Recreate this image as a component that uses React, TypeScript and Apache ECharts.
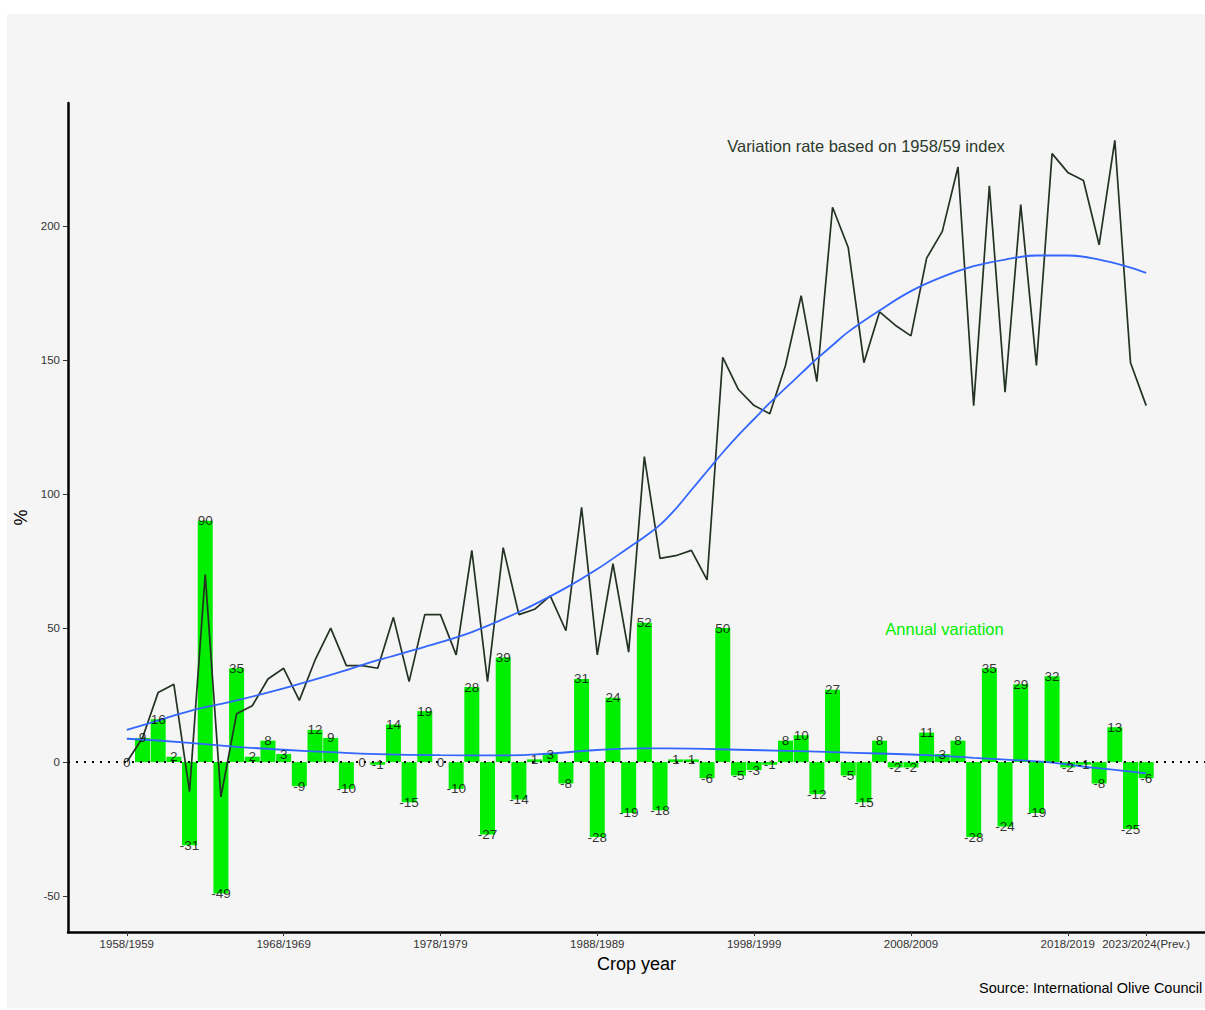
import React, { useEffect, useRef } from "react";
import * as echarts from "echarts";

const cropYears = [
  "1958/1959", "1959/1960", "1960/1961", "1961/1962", "1962/1963", "1963/1964", "1964/1965", "1965/1966",
  "1966/1967", "1967/1968", "1968/1969", "1969/1970", "1970/1971", "1971/1972", "1972/1973", "1973/1974",
  "1974/1975", "1975/1976", "1976/1977", "1977/1978", "1978/1979", "1979/1980", "1980/1981", "1981/1982",
  "1982/1983", "1983/1984", "1984/1985", "1985/1986", "1986/1987", "1987/1988", "1988/1989", "1989/1990",
  "1990/1991", "1991/1992", "1992/1993", "1993/1994", "1994/1995", "1995/1996", "1996/1997", "1997/1998",
  "1998/1999", "1999/2000", "2000/2001", "2001/2002", "2002/2003", "2003/2004", "2004/2005", "2005/2006",
  "2006/2007", "2007/2008", "2008/2009", "2009/2010", "2010/2011", "2011/2012", "2012/2013", "2013/2014",
  "2014/2015", "2015/2016", "2016/2017", "2017/2018", "2018/2019", "2019/2020", "2020/2021", "2021/2022",
  "2022/2023", "2023/2024(Prev.)",
];

// Annual variation (%), green bars
const annualVariation = [
  0, 9, 16, 2, -31, 90, -49, 35, 2, 8, 3, -9, 12, 9, -10, 0, -1, 14, -15, 19, 0, -10, 28, -27, 39, -14,
  1, 3, -8, 31, -28, 24, -19, 52, -18, 1, 1, -6, 50, -5, -3, -1, 8, 10, -12, 27, -5, -15, 8, -2, -2, 11,
  3, 8, -28, 35, -24, 29, -19, 32, -2, -1, -8, 13, -25, -6,
];

// Variation rate based on 1958/59 index (%), dark line
const indexVariation = [
  0, 9, 26, 29, -11, 70, -13, 18, 21, 31, 35, 23, 38, 50, 36, 36, 35, 54, 30, 55, 55, 40, 79, 30, 80, 55,
  57, 62, 49, 95, 40, 74, 41, 114, 76, 77, 79, 68, 151, 139, 133, 130, 148, 174, 142, 207, 192, 149, 168,
  163, 159, 188, 198, 222, 133, 215, 138, 208, 148, 227, 220, 217, 193, 232, 149, 133,
];

// Smoothed trend of the index line
const indexTrendYears = [1958, 1960, 1962, 1965, 1968, 1971, 1974, 1977, 1980, 1983, 1986, 1988, 1990, 1991, 1992, 1993, 1994, 1995, 1996, 1997, 1998, 1999, 2000, 2001, 2002, 2003, 2004, 2006, 2008, 2010, 2012, 2014, 2016, 2018, 2020, 2022, 2023];
const indexTrendValues = [12, 15.5, 19, 23, 27.5, 32.5, 38, 43, 48.5, 56, 65, 72, 80, 84, 88.5, 94.5, 101.5, 108.5, 115.5, 122, 128, 134, 139.5, 145, 150.5, 155.5, 160.5, 168.5, 175.7, 181, 185, 187.5, 189, 189, 187.5, 184.5, 182.5];

// Smoothed trend of the annual variation
const annualTrendYears = [1958, 1962, 1965, 1968, 1971, 1974, 1978, 1982, 1985, 1988, 1991, 1994, 1997, 2000, 2003, 2006, 2009, 2012, 2015, 2017, 2019, 2021, 2023];
const annualTrendValues = [8.7, 7.2, 5.7, 4.6, 3.7, 3.0, 2.6, 2.5, 3.2, 4.5, 5.1, 5.0, 4.6, 4.2, 3.7, 3.2, 2.6, 1.6, 0.6, -0.2, -1.7, -2.9, -4.2];

const xTickLabels = ["1958/1959", "1968/1969", "1978/1979", "1988/1989", "1998/1999", "2008/2009", "2018/2019", "2023/2024(Prev.)"];
const yTicks = [-50, 0, 50, 100, 150, 200];

const startYear = (s: string) => parseInt(s.slice(0, 4), 10);

export default function App() {
  const ref = useRef<HTMLDivElement>(null);
  useEffect(() => {
    if (!ref.current) return;
    const chart = echarts.init(ref.current, null, { renderer: "svg" });
    const years = cropYears.map(startYear);
    const tickYears = xTickLabels.map(startYear);
    const font = "'Liberation Sans', Arial, Helvetica, sans-serif";
    const dark = "#243224";
    const green = "#00EE00";

    chart.setOption({
      animation: false,
      backgroundColor: "#f5f5f5",
      textStyle: { fontFamily: font },
      grid: { left: 68, top: 103, width: 1140, height: 829, containLabel: false },
      xAxis: {
        type: "value",
        min: 1954.25,
        max: 2026.75,
        axisLine: { show: true, onZero: false, lineStyle: { color: "#000", width: 2.5 } },
        axisTick: { show: true, customValues: tickYears, length: 4, lineStyle: { color: "#333", width: 1 } },
        axisLabel: {
          customValues: tickYears,
          formatter: (v: number) => {
            const i = tickYears.indexOf(Math.round(v));
            return i >= 0 ? xTickLabels[i] : "";
          },
          fontSize: 11.5,
          color: "#333",
          margin: 6,
          fontFamily: font,
        },
        splitLine: { show: false },
        name: "Crop year",
        nameLocation: "middle",
        nameGap: 22,
        nameTextStyle: { fontSize: 18, color: "#000", fontFamily: font },
      },
      yAxis: {
        type: "value",
        min: -63.4,
        max: 245.9,
        axisLine: { show: true, onZero: false, lineStyle: { color: "#000", width: 2.5 } },
        axisTick: { show: true, customValues: yTicks, length: 5, lineStyle: { color: "#333", width: 1 } },
        axisLabel: { customValues: yTicks, fontSize: 11.5, color: "#333", margin: 8, fontFamily: font },
        splitLine: { show: false },
        name: "%",
        nameLocation: "middle",
        nameGap: 30,
        nameRotate: 90,
        nameTextStyle: { fontSize: 18, color: "#000", fontFamily: font },
      },
      series: [
        {
          name: "Annual variation",
          type: "bar",
          barWidth: 15,
          itemStyle: { color: green },
          data: years.map((y, i) => [y, annualVariation[i]]),
          z: 2,
        },
        {
          name: "Variation rate",
          type: "line",
          symbol: "none",
          lineStyle: { color: dark, width: 1.7 },
          data: years.map((y, i) => [y, indexVariation[i]]),
          z: 3,
        },
        {
          name: "Index trend",
          type: "line",
          smooth: 0.4,
          symbol: "none",
          lineStyle: { color: "#3366FF", width: 1.8 },
          data: indexTrendYears.map((y, i) => [y, indexTrendValues[i]]),
          z: 4,
        },
        {
          name: "Annual trend",
          type: "line",
          smooth: true,
          symbol: "none",
          lineStyle: { color: "#3366FF", width: 1.8 },
          data: annualTrendYears.map((y, i) => [y, annualTrendValues[i]]),
          z: 4,
        },
        {
          name: "Labels",
          type: "scatter",
          symbolSize: 1,
          itemStyle: { color: "rgba(0,0,0,0)" },
          label: {
            show: true,
            position: "inside",
            formatter: (p: any) => String(p.value[1]),
            color: "#000",
            fontSize: 13.5,
            fontFamily: font,
          },
          data: years.map((y, i) => [y, annualVariation[i]]),
          z: 6,
          markLine: {
            silent: true,
            symbol: ["none", "none"],
            label: { show: false },
            lineStyle: { type: [2, 6], color: "#000", width: 2 },
            data: [{ yAxis: 0 }],
          },
        },
      ],
      graphic: [
        { type: "rect", shape: { x: 0, y: 0, width: 1205, height: 14 }, style: { fill: "#ffffff" }, z: 100 },
        { type: "rect", shape: { x: 0, y: 0, width: 7, height: 1010 }, style: { fill: "#ffffff" }, z: 100 },
        { type: "rect", shape: { x: 0, y: 1008, width: 1205, height: 2 }, style: { fill: "#ffffff" }, z: 100 },
        {
          type: "text",
          x: 866,
          y: 146,
          style: {
            text: "Variation rate based on 1958/59 index",
            fill: "#2c3a2c",
            fontSize: 16.5,
            fontFamily: font,
            align: "center",
            verticalAlign: "middle",
          },
          z: 50,
        },
        {
          type: "text",
          x: 944.5,
          y: 629,
          style: {
            text: "Annual variation",
            fill: green,
            fontSize: 16.5,
            fontFamily: font,
            align: "center",
            verticalAlign: "middle",
          },
          z: 50,
        },
        {
          type: "text",
          x: 979,
          y: 988,
          style: {
            text: "Source: International Olive Council",
            fill: "#000",
            fontSize: 14.5,
            fontFamily: font,
            align: "left",
            verticalAlign: "middle",
          },
          z: 50,
        },
      ],
    });
    return () => chart.dispose();
  }, []);
  return (
    <div
      ref={ref}
      style={{ position: "absolute", left: 0, top: 0, width: 1205, height: 1010 }}
    />
  );
}
